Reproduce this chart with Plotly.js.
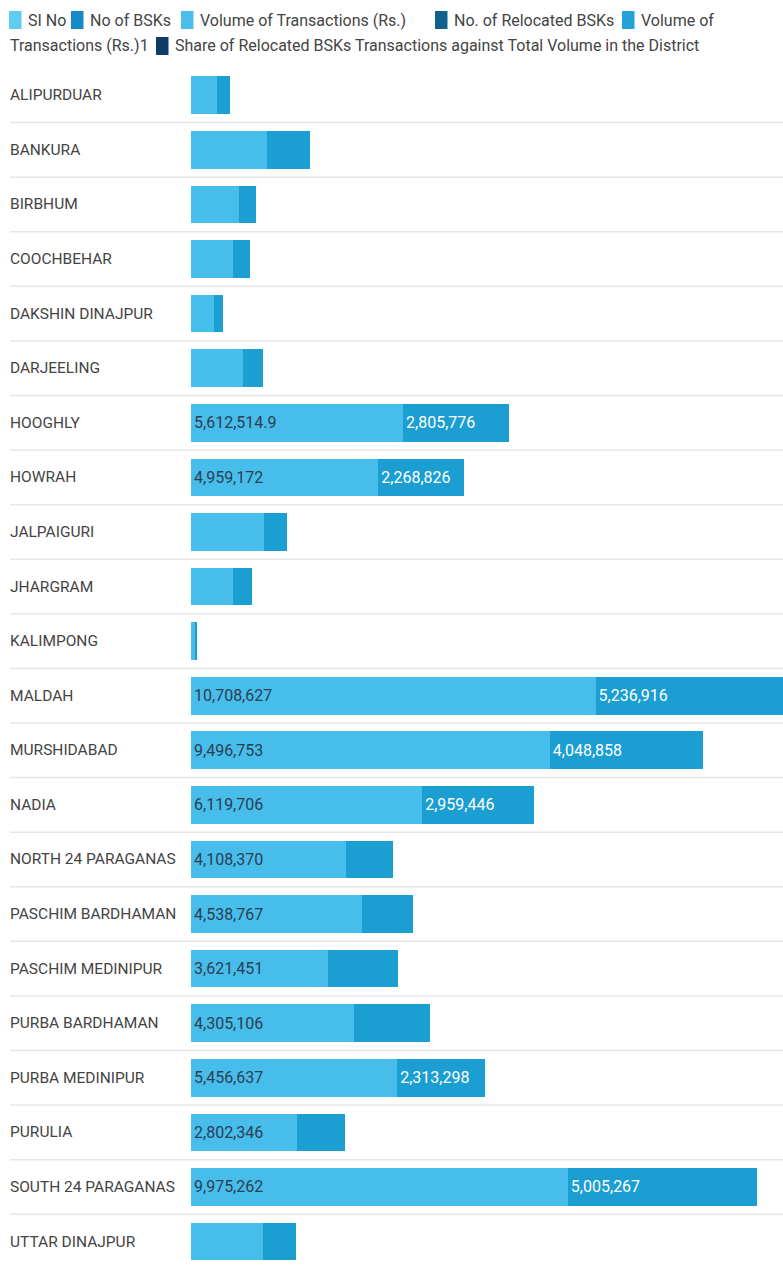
<!DOCTYPE html>
<html>
<head>
<meta charset="utf-8">
<script src="https://cdn.plot.ly/plotly-3.0.1.min.js"></script>
<style>
  html, body { margin: 0; padding: 0; background: #ffffff; }
  #chart { width: 783px; height: 1265px; }
</style>
</head>
<body>
<div id="chart"></div>
<script>
// ---- Data ----
const districts = [
  "ALIPURDUAR", "BANKURA", "BIRBHUM", "COOCHBEHAR", "DAKSHIN DINAJPUR",
  "DARJEELING", "HOOGHLY", "HOWRAH", "JALPAIGURI", "JHARGRAM", "KALIMPONG",
  "MALDAH", "MURSHIDABAD", "NADIA", "NORTH 24 PARAGANAS", "PASCHIM BARDHAMAN",
  "PASCHIM MEDINIPUR", "PURBA BARDHAMAN", "PURBA MEDINIPUR", "PURULIA",
  "SOUTH 24 PARAGANAS", "UTTAR DINAJPUR"
];
const volumeOfTransactions = [
  680000, 2000000, 1280000, 1120000, 610000,
  1380000, 5612514.9, 4959172, 1930000, 1110000, 100000,
  10708627, 9496753, 6119706, 4108370, 4538767,
  3621451, 4305106, 5456637, 2802346,
  9975262, 1900000
];
const volumeOfTransactions1 = [
  350000, 1150000, 440000, 440000, 240000,
  530000, 2805776, 2268826, 610000, 500000, 50000,
  5236916, 4048858, 2959446, 1230000, 1330000,
  1850000, 2030000, 2313298, 1280000,
  5005267, 870000
];
const seriesNames = [
  "SI No", "No of BSKs", "Volume of Transactions (Rs.)",
  "No. of Relocated BSKs", "Volume of Transactions (Rs.)1",
  "Share of Relocated BSKs Transactions against Total Volume in the District"
];
const seriesColors = ["#5fcdf2", "#1789c4", "#4fbdeb", "#11618f", "#22a2d6", "#0d3d66"];

// ---- Layout constants ----
const W = 783, H = 1265;
const mL = 191, mR = 0, mT = 68, mB = 0;
const plotW = W - mL - mR, plotH = H - mT - mB;
const px2x = p => (p - mL) / plotW;
const px2y = p => (H - mB - p) / plotH;
const labelThreshold = 2100000;
const fmt = v => v.toLocaleString('en-US', {maximumFractionDigits: 1});

const FONT = "Roboto, sans-serif";
const barFont = {family: FONT, size: 16};

const traces = [
  {
    type: 'bar', orientation: 'h', name: seriesNames[2],
    y: districts, x: volumeOfTransactions,
    marker: {color: '#47bdec'},
    text: volumeOfTransactions.map(v => v >= labelThreshold ? fmt(v) : ''),
    textposition: 'inside', insidetextanchor: 'start', constraintext: 'none',
    textfont: Object.assign({color: '#2b3f50'}, barFont),
    hoverinfo: 'x+y'
  },
  {
    type: 'bar', orientation: 'h', name: seriesNames[4],
    y: districts, x: volumeOfTransactions1,
    marker: {color: '#1b9ed2'},
    text: volumeOfTransactions1.map(v => v >= labelThreshold ? fmt(v) : ''),
    textposition: 'inside', insidetextanchor: 'start', constraintext: 'none',
    textfont: Object.assign({color: '#ffffff'}, barFont),
    hoverinfo: 'x+y'
  }
];

const shapes = [];
const annotations = [];

// row separators
for (let i = 0; i < districts.length - 1; i++) {
  shapes.push({
    type: 'line', xref: 'paper', yref: 'y', layer: 'below',
    x0: px2x(10), x1: 1, y0: i + 0.5, y1: i + 0.5,
    line: {color: '#e6e6e6', width: 1.5}
  });
}

// category labels, left aligned
districts.forEach((d) => {
  annotations.push({
    xref: 'paper', yref: 'y', x: px2x(8), y: d, xanchor: 'left', yanchor: 'middle',
    text: d, showarrow: false,
    font: {family: FONT, size: 15.5, color: '#444444'}
  });
});

// custom legend (wrapping like the original)
const legendItems = [
  {s: 0, sx: 9,   tx: 27,  line: 0, text: seriesNames[0]},
  {s: 1, sx: 71,  tx: 89,  line: 0, text: seriesNames[1]},
  {s: 2, sx: 181, tx: 199, line: 0, text: seriesNames[2]},
  {s: 3, sx: 435, tx: 453, line: 0, text: seriesNames[3]},
  {s: 4, sx: 622, tx: 640, line: 0, text: "Volume of"},
  {s: -1, sx: 0,  tx: 9,   line: 1, text: "Transactions (Rs.)1"},
  {s: 5, sx: 156, tx: 174, line: 1, text: seriesNames[5]}
];
const lineY = [20, 46];
legendItems.forEach(it => {
  const cy = lineY[it.line];
  if (it.s >= 0) {
    shapes.push({
      type: 'rect', xref: 'paper', yref: 'paper',
      x0: px2x(it.sx), x1: px2x(it.sx + 12.5), y0: px2y(cy + 9), y1: px2y(cy - 9),
      fillcolor: seriesColors[it.s], line: {width: 0}
    });
  }
  annotations.push({
    xref: 'paper', yref: 'paper', x: px2x(it.tx - 1), y: px2y(cy),
    xanchor: 'left', yanchor: 'middle', text: it.text, showarrow: false,
    font: {family: FONT, size: 16, color: '#444444'}
  });
});

const layout = {
  width: W, height: H,
  margin: {l: mL, r: mR, t: mT, b: mB, pad: 0},
  paper_bgcolor: '#ffffff', plot_bgcolor: '#ffffff',
  barmode: 'stack', bargap: 0.31,
  showlegend: false,
  xaxis: {range: [0, 15670000], showgrid: false, zeroline: false,
          showticklabels: false, ticks: '', showline: false, fixedrange: true},
  yaxis: {type: 'category', categoryorder: 'array', categoryarray: districts,
          range: [21.43, -0.5], showgrid: false, zeroline: false,
          showticklabels: false, ticks: '', showline: false, fixedrange: true},
  shapes: shapes,
  annotations: annotations,
  font: {family: FONT, color: '#444444'}
};

Plotly.newPlot('chart', traces, layout, {displayModeBar: false, staticPlot: true});
</script>
</body>
</html>
